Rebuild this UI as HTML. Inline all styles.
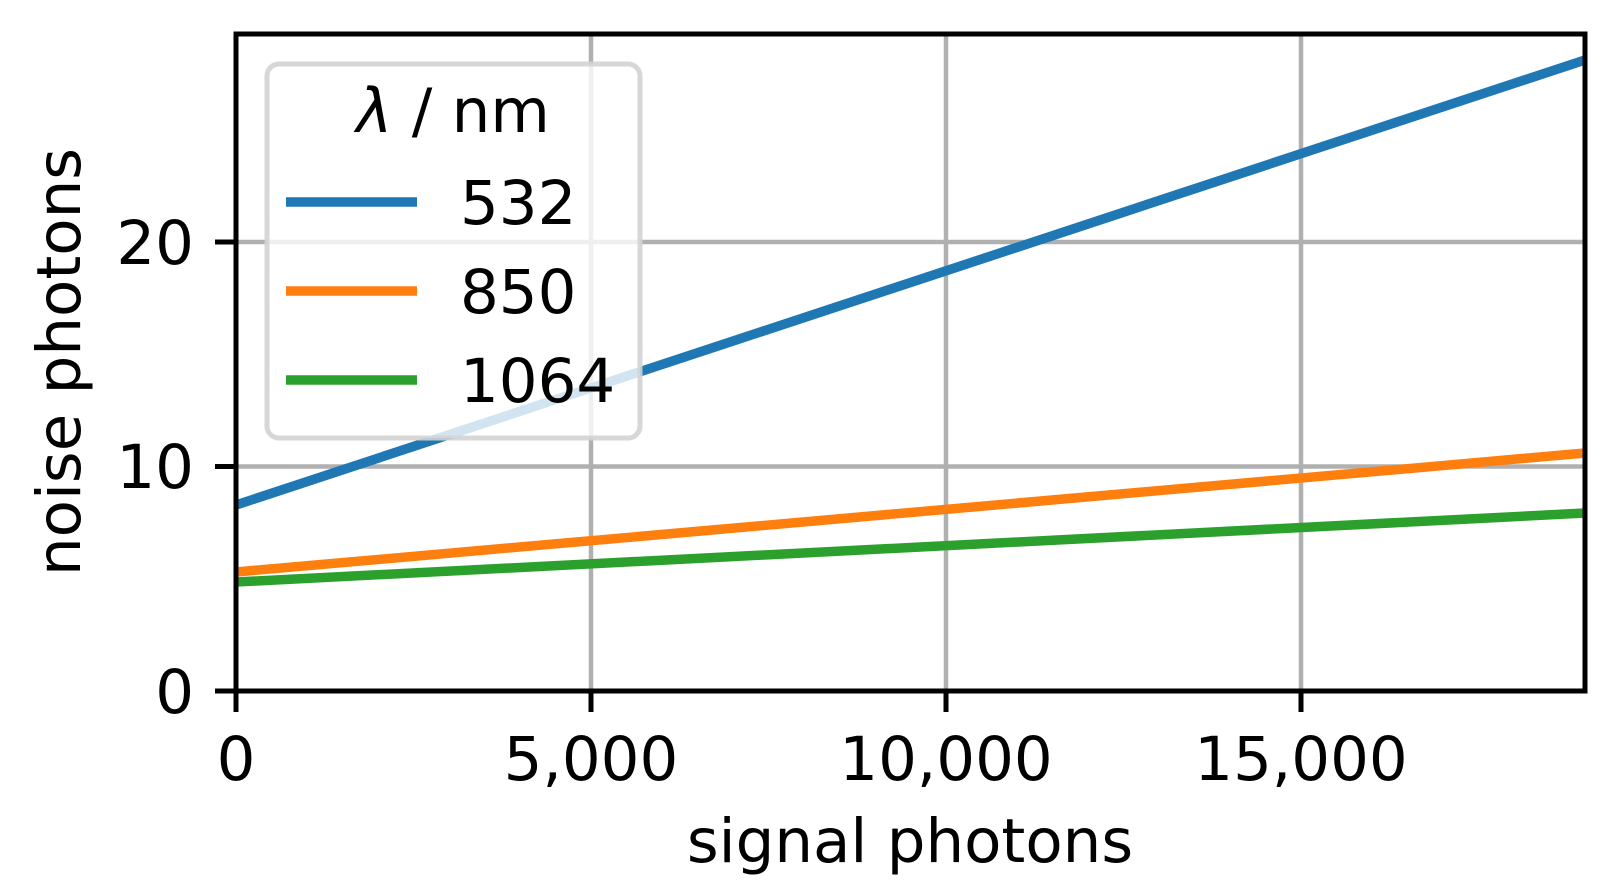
<!DOCTYPE html>
<html><head><meta charset="utf-8"><style>body{margin:0;background:#fff}svg{display:block}</style></head><body>
<svg width="1621" height="894" viewBox="0 0 1621 894" xmlns="http://www.w3.org/2000/svg" font-family="DejaVu Sans, Liberation Sans, sans-serif">
<rect width="1621" height="894" fill="#fff"/>
<g stroke="#b0b0b0" stroke-width="4.5">
<line x1="236" y1="34" x2="236" y2="691"/>
<line x1="591" y1="34" x2="591" y2="691"/>
<line x1="946" y1="34" x2="946" y2="691"/>
<line x1="1301" y1="34" x2="1301" y2="691"/>
<line x1="236" y1="691" x2="1585" y2="691"/>
<line x1="236" y1="466.5" x2="1585" y2="466.5"/>
<line x1="236" y1="242" x2="1585" y2="242"/>
</g>
<g stroke-width="9.5" fill="none" stroke-linecap="butt">
<line x1="236" y1="505" x2="1585" y2="60" stroke="#1f77b4"/>
<line x1="236" y1="572" x2="1585" y2="453" stroke="#ff7f0e"/>
<line x1="236" y1="582" x2="1585" y2="513" stroke="#2ca02c"/>
</g>
<rect x="267" y="64" width="373" height="374" rx="12" fill="#fff" fill-opacity="0.8" stroke="#d3d3d3" stroke-opacity="0.9" stroke-width="5"/>
<text x="453" y="132" font-size="61" text-anchor="middle"><tspan font-style="italic">λ</tspan> / nm</text>
<line x1="286" y1="202" x2="417" y2="202" stroke="#1f77b4" stroke-width="9.5"/>
<line x1="286" y1="291" x2="417" y2="291" stroke="#ff7f0e" stroke-width="9.5"/>
<line x1="286" y1="380" x2="417" y2="380" stroke="#2ca02c" stroke-width="9.5"/>
<g font-size="61">
<text x="460" y="224">532</text>
<text x="460" y="313">850</text>
<text x="460" y="402">1064</text>
</g>
<rect x="236" y="34" width="1349" height="657" fill="none" stroke="#000" stroke-width="5"/>
<g stroke="#000" stroke-width="5">
<line x1="236" y1="691" x2="236" y2="712"/>
<line x1="591" y1="691" x2="591" y2="712"/>
<line x1="946" y1="691" x2="946" y2="712"/>
<line x1="1301" y1="691" x2="1301" y2="712"/>
<line x1="215" y1="691" x2="236" y2="691"/>
<line x1="215" y1="466.5" x2="236" y2="466.5"/>
<line x1="215" y1="242" x2="236" y2="242"/>
</g>
<g font-size="61" text-anchor="middle">
<text x="236" y="780">0</text>
<text x="591" y="780">5,000</text>
<text x="946" y="780">10,000</text>
<text x="1301" y="780">15,000</text>
</g>
<g font-size="61" text-anchor="end">
<text x="194" y="713">0</text>
<text x="194" y="488">10</text>
<text x="194" y="264">20</text>
</g>
<text x="910" y="862" font-size="61" text-anchor="middle">signal photons</text>
<text transform="translate(80,362) rotate(-90)" font-size="61" text-anchor="middle">noise photons</text>
</svg>
</body></html>
